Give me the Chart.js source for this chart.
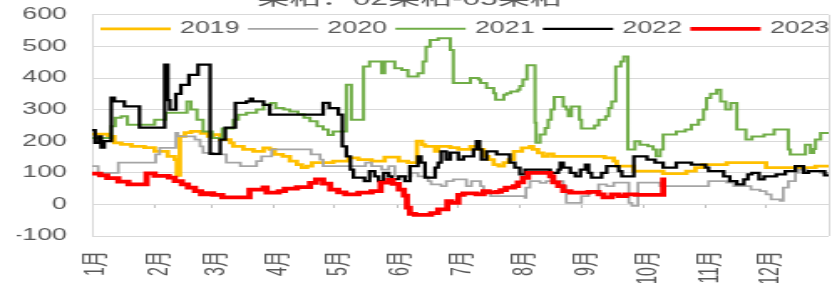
<!DOCTYPE html>
<html lang="zh-CN">
<head>
<meta charset="utf-8">
<title>价差季节性</title>
<script src="https://cdn.jsdelivr.net/npm/chart.js@4.4.0/dist/chart.umd.min.js"></script>
<style>
  html, body { margin: 0; padding: 0; background: #fff; overflow: hidden; }
  body { width: 837px; height: 283px; position: relative; }
  /* 原图是被横向拉伸过的，这里按同样比例拉伸画布 */
  #wrap {
    position: absolute; left: 0; top: -13px;
    width: 500px; height: 299px;
    transform: scaleX(1.674); transform-origin: 0 0;
  }
</style>
</head>
<body>
<div id="wrap"><canvas id="spreadChart" width="500" height="299"></canvas></div>
<script>
// 月份刻度（按一年中的第几天）
const monthStarts = [0, 31, 59, 90, 120, 151, 181, 212, 243, 273, 304, 334, 365];
const monthLabels = ['1月', '2月', '3月', '4月', '5月', '6月', '7月', '8月', '9月', '10月', '11月', '12月', ''];
const yMin = -100;
const yMax = 600;
const yStep = 100;

// 各年数据：价格变动日 + 当日起的价差
const days2019 = [0, 8, 11, 14.5, 19.5, 26, 31, 37.5, 41, 42, 43.5, 46, 49, 54, 57.5, 60, 63.5, 68.5, 70, 75, 80, 85, 88, 90.5, 94.5, 98, 101.5, 104, 106.5, 109, 119.5, 127, 132, 138.5, 145, 152, 156.5, 161, 163.5, 165, 170, 171.5, 177.5, 181.5, 187.5, 191.5, 194, 196.5, 199, 201.5, 204, 206.5, 209, 213, 217, 218.5, 221, 223.5, 226, 228.5, 254, 258.5, 260, 268.5, 283, 294.5, 299, 302.5, 314.5, 334, 358.5, 365];
const vals2019 = [222, 215, 195, 190, 184, 180, 168, 152, 142, 92, 215, 227, 231, 225, 215, 221, 205, 195, 184, 174, 168, 179, 174, 158, 152, 137, 126, 116, 121, 132, 137, 147, 142, 137, 150, 137, 132, 200, 189, 184, 168, 184, 180, 174, 184, 174, 152, 142, 126, 121, 132, 142, 168, 179, 184, 174, 163, 152, 160, 152, 147, 137, 121, 105, 97, 105, 116, 126, 132, 116, 121, 121];

const days2020 = [0, 3, 13, 31.5, 33.5, 41.5, 42.5, 51, 53.5, 55, 60, 66.5, 73.5, 81.5, 84, 89, 108.5, 113, 114.5, 135.5, 138.5, 143.5, 147, 150, 158, 161.5, 166.5, 168, 173, 175.5, 179, 185.5, 188, 192.5, 194, 197.5, 214.5, 215, 217, 222, 225, 233.5, 235, 242.5, 246, 251, 255, 258.5, 266, 267.5, 270.5, 281.5, 305.5, 314.5, 318, 326.5, 331, 334, 336.5, 341, 342.5, 345, 348.5, 350, 354, 361, 365];
const vals2020 = [121, 100, 132, 158, 179, 226, 215, 205, 184, 163, 158, 132, 121, 137, 152, 174, 158, 142, 121, 132, 121, 110, 121, 89, 100, 89, 74, 63, 58, 74, 79, 58, 74, 58, 42, 26, 21, 53, 74, 68, 74, 58, 5, 26, 37, 63, 58, 69, 5, -5, 69, 58, 74, 69, 58, 47, 42, 32, 16, 11, 53, 74, 100, 110, 105, 100, 100];

const days2021 = [0, 9.5, 11.5, 14.5, 17.5, 31, 36.5, 47, 49, 52, 55, 59.5, 64.5, 70, 72.5, 76.5, 81.5, 85, 88.5, 91, 95, 98, 102, 105, 108, 111.5, 114.5, 117, 119.5, 126, 128.5, 134.5, 137.5, 143.5, 145, 150, 153.5, 156.5, 161.5, 164, 165.5, 167.5, 171.5, 177.5, 179, 187.5, 191.5, 192.5, 195.5, 199, 200, 204, 205.5, 207.5, 211, 212, 213.5, 215.5, 219.5, 220, 222, 224.5, 226, 227.5, 229, 233.5, 235, 236, 237.5, 241.5, 242.5, 249, 251, 254.5, 256, 257.5, 259.5, 262, 263.5, 265.5, 269, 271.5, 275.5, 278, 279.5, 281.5, 283, 289.5, 294, 297, 300.5, 303, 304.5, 306.5, 309.5, 311.5, 314, 316.5, 319.5, 324, 327, 333, 338, 345, 346, 353.5, 356, 357.5, 358.5, 361, 365];
const vals2021 = [210, 247, 274, 279, 252, 268, 290, 326, 300, 268, 231, 210, 240, 268, 284, 290, 300, 315, 321, 305, 300, 294, 285, 274, 263, 247, 237, 220, 231, 379, 268, 436, 452, 415, 452, 431, 425, 405, 415, 452, 499, 520, 526, 489, 384, 400, 395, 384, 368, 352, 331, 347, 352, 357, 363, 375, 395, 440, 258, 195, 221, 242, 268, 300, 340, 310, 300, 279, 310, 268, 240, 250, 268, 279, 305, 326, 436, 452, 468, 174, 200, 189, 184, 174, 152, 174, 221, 231, 237, 252, 268, 300, 337, 350, 363, 326, 300, 321, 237, 205, 215, 221, 237, 174, 158, 189, 163, 175, 205, 226, 226];

const days2022 = [0, 1.5, 3.5, 4.5, 6, 9.5, 11, 16, 23.5, 36, 37.5, 38.5, 41.5, 44, 48, 52.5, 58.5, 63.5, 66, 71, 76.5, 78.5, 79.5, 85, 88, 114.5, 117.5, 122, 124, 126, 128, 129.5, 135, 137.5, 140, 142, 144.5, 147, 148.5, 152, 155, 157.5, 161.5, 163, 165, 170, 171.5, 173, 175.5, 177.5, 181.5, 184, 189, 190.5, 192, 193, 195.5, 200.5, 207, 209.5, 212, 214.5, 227, 231, 232, 233.5, 237, 239.5, 242, 244.5, 246, 247.5, 252.5, 255, 261, 262.5, 268.5, 275, 279, 283, 289.5, 297, 304, 305.5, 313, 316, 319.5, 323, 325, 327, 330.5, 333, 339, 343.5, 348.5, 352.5, 355, 363, 365];
const vals2022 = [235, 195, 215, 180, 200, 338, 326, 310, 243, 442, 330, 300, 350, 378, 410, 442, 160, 205, 243, 321, 326, 335, 326, 315, 284, 321, 305, 284, 184, 152, 110, 85, 74, 105, 89, 74, 100, 89, 80, 89, 74, 121, 152, 132, 85, 116, 132, 168, 142, 164, 142, 152, 174, 200, 174, 142, 168, 158, 132, 116, 95, 110, 100, 110, 132, 116, 100, 89, 110, 126, 100, 85, 100, 121, 105, 89, 152, 142, 132, 116, 132, 126, 116, 105, 89, 74, 63, 79, 95, 100, 79, 89, 95, 105, 121, 100, 105, 92, 92];

const days2023 = [0, 4, 7.5, 13, 18, 27, 31, 38, 41, 44.5, 47.5, 51, 54, 57, 60, 64.5, 78, 85, 86.5, 92.5, 95.5, 101.5, 108, 111, 114.5, 118, 122, 125.5, 132, 138.5, 143, 147, 149, 152, 154.5, 156, 157.5, 160, 168, 171.5, 176, 178, 181.5, 184, 190.5, 194, 196.5, 200.5, 202.5, 205, 209, 211, 213.5, 216, 227, 228.5, 231, 233.5, 237, 246, 251, 253.5, 257.5, 261, 264.5, 269.5, 283];
const vals2023 = [97, 92, 83, 72, 63, 98, 90, 85, 74, 63, 53, 42, 32, 36, 30, 22, 47, 54, 37, 42, 50, 55, 68, 79, 66, 47, 38, 32, 37, 42, 69, 78, 65, 47, 28, -10, -30, -33, -28, -16, 10, 5, 30, 35, 32, 42, 38, 40, 45, 53, 58, 70, 84, 100, 89, 70, 58, 42, 37, 40, 32, 22, 32, 26, 32, 30, 85];

function toPoints(days, vals) {
  return days.map((d, i) => ({ x: d, y: vals[i] }));
}

// 横轴刻度固定在每月1日
function setMonthTicks(axis) {
  axis.ticks = monthStarts.map(v => ({ value: v }));
}

// 绘图区右侧边框
const plotBorder = {
  id: 'plotBorder',
  beforeDatasetsDraw(chart) {
    const { ctx, chartArea } = chart;
    ctx.save();
    ctx.strokeStyle = '#D9D9D9';
    ctx.lineWidth = 1;
    ctx.beginPath();
    ctx.moveTo(chartArea.right + 0.5, chartArea.top);
    ctx.lineTo(chartArea.right + 0.5, chartArea.bottom);
    ctx.stroke();
    ctx.restore();
  }
};

// 图例画在绘图区内部顶端（Excel 风格）
const inlineLegend = {
  id: 'inlineLegend',
  afterDatasetsDraw(chart, args, opts) {
    const { ctx, chartArea } = chart;
    ctx.save();
    ctx.font = opts.font;
    ctx.textBaseline = 'middle';
    let x = chartArea.left + opts.left;
    const y = chartArea.top + opts.top;
    chart.data.datasets.forEach(ds => {
      ctx.strokeStyle = ds.borderColor;
      ctx.lineWidth = ds.borderWidth;
      ctx.beginPath();
      ctx.moveTo(x, y);
      ctx.lineTo(x + opts.lineLength, y);
      ctx.stroke();
      x += opts.lineLength + opts.gap;
      ctx.fillStyle = opts.color;
      ctx.fillText(ds.label, x, y);
      x += ctx.measureText(ds.label).width + opts.spacing;
    });
    ctx.restore();
  }
};

Chart.defaults.font.family = '"Liberation Sans", "Noto Sans CJK SC", sans-serif';
Chart.defaults.color = '#595959';

const ctx = document.getElementById('spreadChart').getContext('2d');

window.spreadChart = new Chart(ctx, {
  type: 'line',
  data: {
    datasets: [{
      label: '2019',
      data: toPoints(days2019, vals2019),
      borderColor: '#FFC000',
      borderWidth: 2.75,
      order: 4
    }, {
      label: '2020',
      data: toPoints(days2020, vals2020),
      borderColor: '#A5A5A5',
      borderWidth: 1.75,
      order: 3
    }, {
      label: '2021',
      data: toPoints(days2021, vals2021),
      borderColor: '#70AD47',
      borderWidth: 2,
      order: 2
    }, {
      label: '2022',
      data: toPoints(days2022, vals2022),
      borderColor: '#000000',
      borderWidth: 2.25,
      order: 1
    }, {
      label: '2023',
      data: toPoints(days2023, vals2023),
      borderColor: '#FF0000',
      borderWidth: 3.75,
      order: 0
    }]
  },
  options: {
    responsive: false,
    animation: false,
    events: [],
    layout: {
      padding: { left: 10, right: 5, top: 0, bottom: 0 }
    },
    elements: {
      line: { stepped: true, tension: 0, fill: false },
      point: { radius: 0 }
    },
    plugins: {
      legend: { display: false },
      tooltip: { enabled: false },
      title: {
        display: true,
        text: '菜粕：02菜粕-05菜粕   ',
        color: '#595959',
        font: { size: 19, weight: 'normal' },
        padding: { top: 1, bottom: 4 }
      },
      inlineLegend: {
        font: '16px "Liberation Sans", "Noto Sans CJK SC", sans-serif',
        color: '#595959',
        left: 5,
        top: 14,
        lineLength: 42,
        gap: 5.5,
        spacing: 5
      }
    },
    scales: {
      x: {
        type: 'linear',
        min: 0,
        max: 365,
        afterBuildTicks: setMonthTicks,
        // 轴高度固定，不让旋转标签把两侧挤窄
        afterFit: axis => {
          axis.height = 50;
          axis.paddingLeft = 0;
          axis.paddingRight = 0;
        },
        grid: { display: false, drawTicks: false },
        border: { display: false },
        ticks: {
          autoSkip: false,
          minRotation: 90,
          maxRotation: 90,
          padding: 15,
          labelOffset: 3,
          font: { size: 16 },
          callback: (value, index) => monthLabels[index]
        }
      },
      // 零轴上的小刻度线
      xt: {
        type: 'linear',
        axis: 'x',
        position: { y: 0 },
        min: 0,
        max: 365,
        afterBuildTicks: setMonthTicks,
        ticks: { display: false },
        grid: { drawOnChartArea: false, drawTicks: true, tickLength: 4, color: '#BFBFBF' },
        border: { display: false }
      },
      y: {
        min: yMin,
        max: yMax,
        afterFit: axis => { axis.width = 45; },
        ticks: {
          stepSize: yStep,
          padding: 15,
          font: { size: 16 }
        },
        grid: { color: '#D9D9D9', drawTicks: false },
        border: { display: true, color: '#D9D9D9' }
      }
    }
  },
  plugins: [plotBorder, inlineLegend]
});
</script>
</body>
</html>
